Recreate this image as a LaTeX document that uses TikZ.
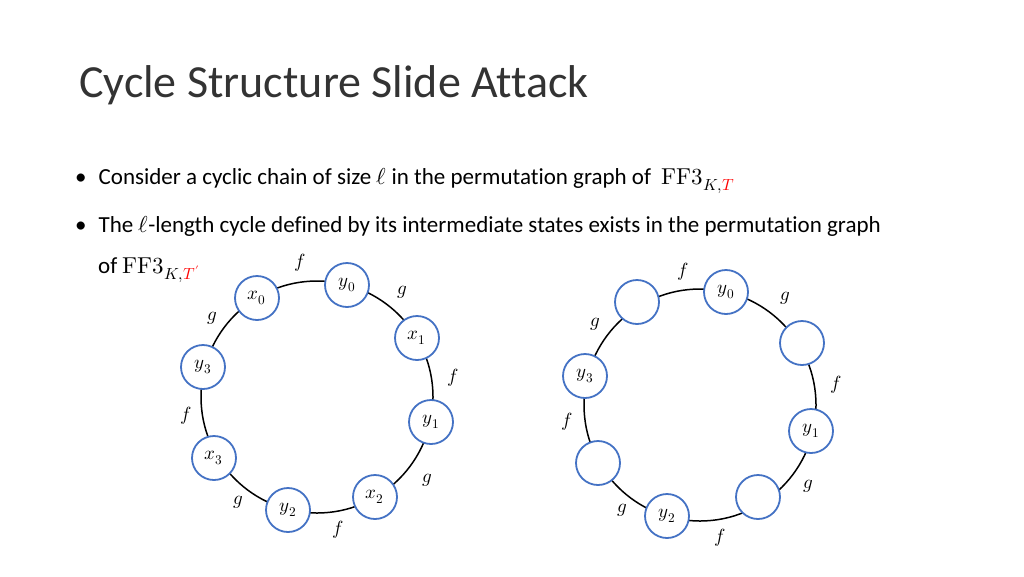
\documentclass[tikz,border=0pt]{standalone}
\usepackage{fontspec}
\setmainfont{Carlito}[Ligatures={NoCommon}]
\usepackage{unicode-math}
\setmathfont{Latin Modern Math}
\definecolor{nb}{RGB}{68,114,196}
\begin{document}
\begin{tikzpicture}[x=1pt,y=-1pt,
 st/.style={circle,draw=nb,line width=1.8pt,fill=white,minimum size=44pt,inner sep=0pt,font=\fontsize{19}{22}\selectfont},
 lb/.style={font=\fontsize{19}{22}\selectfont}]
\useasboundingbox (0,0) rectangle (1024,576);
\node[anchor=west,font=\fontsize{46}{54}\selectfont,text=black!80,inner sep=0pt] (title) at (79,85) {Cycle Structure Slide Attack};
\node[anchor=west,font=\fontsize{23}{27}\selectfont,inner sep=0pt] (b1) at (75,181) {•\hspace{12pt}Consider a cyclic chain of size $\ell$ in the permutation graph of \ $\symup{FF3}_{K,\textcolor{red}{T}}$};
\node[anchor=west,font=\fontsize{23}{27}\selectfont,inner sep=0pt] (b2) at (75,226) {•\hspace{12pt}The $\ell$-length cycle defined by its intermediate states exists in the permutation graph};
\node[anchor=west,font=\fontsize{23}{27}\selectfont,inner sep=0pt] (b3) at (98,270) {of $\symup{FF3}_{K,\textcolor{red}{T'}}$};
% left
\draw[line width=1.5pt] (317,397) circle (116);
\node[st] (a1) at (257,298) {$x_0$};
\node[st] (a2) at (347,285) {$y_0$};
\node[st] (a3) at (417,338) {$x_1$};
\node[st] (a4) at (431,422) {$y_1$};
\node[st] (a5) at (375,497) {$x_2$};
\node[st] (a6) at (288,510) {$y_2$};
\node[st] (a7) at (214,458) {$x_3$};
\node[st] (a8) at (203,367) {$y_3$};
\foreach \n/\x/\y/\t in {la1/300/263/f,la2/402/292/g,la3/212/318/g,la4/453/378/f,la5/186/416/f,la6/427/480/g,la7/238/502/g,la8/338/530/f}
 \node[lb] (\n) at (\x,\y) {$\t$};
% right
\draw[line width=1.5pt] (700,405) circle (116);
\node[st] (b1n) at (637,302) {};
\node[st] (b2n) at (726,292) {$y_0$};
\node[st] (b3n) at (802,343) {};
\node[st] (b4n) at (811,431) {$y_1$};
\node[st] (b5n) at (758,497) {};
\node[st] (b6n) at (667,516) {$y_2$};
\node[st] (b7n) at (598,463) {};
\node[st] (b8n) at (585,376) {$y_3$};
\foreach \n/\x/\y/\t in {lb1/683/272/f,lb2/785/298/g,lb3/595/324/g,lb4/836/385/f,lb5/567/422/f,lb6/808/486/g,lb7/622/510/g,lb8/720/538/f}
 \node[lb] (\n) at (\x,\y) {$\t$};
\end{tikzpicture}
\end{document}
